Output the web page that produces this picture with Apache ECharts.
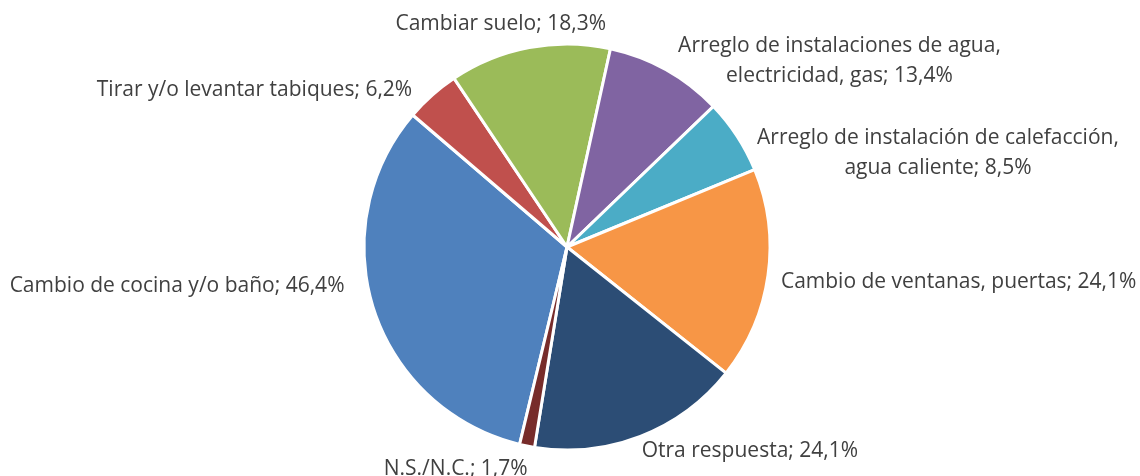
<!DOCTYPE html>
<html>
<head>
<meta charset="utf-8">
<script src="https://cdn.jsdelivr.net/npm/echarts@6/dist/echarts.min.js"></script>
<style>
  html, body { margin: 0; padding: 0; background: #ffffff; }
  #chart { width: 1140px; height: 476px; }
</style>
</head>
<body>
<div id="chart"></div>
<script>
// Reformas realizadas (respuesta múltiple, % de casos)
const categories = [
  'Cambio de cocina y/o baño',
  'Tirar y/o levantar tabiques',
  'Cambiar suelo',
  'Arreglo de instalaciones de agua,\nelectricidad, gas',
  'Arreglo de instalación de calefacción,\nagua caliente',
  'Cambio de ventanas, puertas',
  'Otra respuesta',
  'N.S./N.C.'
];
const values = [46.4, 6.2, 18.3, 13.4, 8.5, 24.1, 24.1, 1.7];
const colors = ['#4F81BD', '#C0504D', '#9BBB59', '#8064A2', '#4BACC6', '#F79646', '#2C4D75', '#772C2A'];

// small nudges of each label box, relative to the pie's own outside placement
const labelNudge = [
  [-13, -27], [-7, 4], [84, -12], [1, 2],
  [5, 23], [-4, 5], [-8, 4], [8, 11]
];

const fmt = v => v.toFixed(1).replace('.', ',') + '%';

const chart = echarts.init(document.getElementById('chart'), null, { renderer: 'canvas' });
chart.setOption({
  animation: false,
  series: [{
    type: 'pie',
    center: [567, 247],
    radius: 203,
    startAngle: 256.5,
    clockwise: true,
    avoidLabelOverlap: false,
    data: categories.map((name, i) => ({
      name: name,
      value: values[i],
      itemStyle: { color: colors[i] }
    })),
    itemStyle: { borderColor: '#ffffff', borderWidth: 3 },
    label: {
      show: true,
      position: 'outside',
      formatter: p => p.name + '; ' + fmt(p.value),
      color: '#404040',
      fontFamily: 'Open Sans',
      fontSize: 21,
      lineHeight: 30
    },
    labelLine: { show: false, length: 12, length2: 0 },
    labelLayout: p => {
      const r = p.labelRect;
      const n = labelNudge[p.dataIndex];
      return {
        x: r.x + r.width / 2 + n[0],
        y: r.y + r.height / 2 + n[1],
        align: 'center',
        verticalAlign: 'middle'
      };
    },
    emphasis: { disabled: true }
  }]
});
</script>
</body>
</html>
